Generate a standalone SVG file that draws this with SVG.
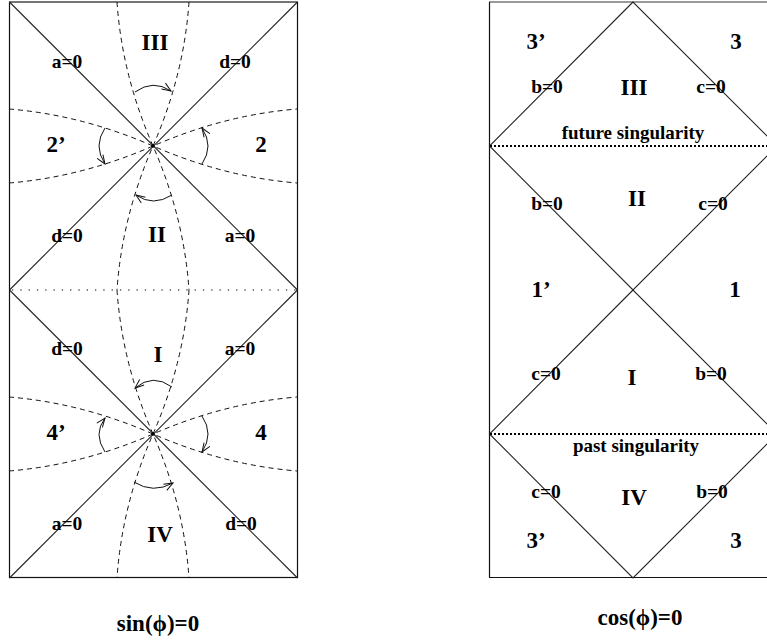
<svg xmlns="http://www.w3.org/2000/svg" width="767" height="642" viewBox="0 0 767 642">
<style>
  .frame { fill: none; stroke: #111; stroke-width: 1.2; }
  .top { stroke: #777; stroke-width: 1.5; }
  .ln { fill: none; stroke: #222; stroke-width: 1.1; }
  .dash { fill: none; stroke: #111; stroke-width: 1; stroke-dasharray: 5 4; }
  .dotg { stroke: #555; stroke-width: 1.5; stroke-dasharray: 1.3 7; }
  .dotb { stroke: #000; stroke-width: 2; stroke-dasharray: 2 2; }
  .arc { fill: none; stroke: #111; stroke-width: 1; marker-end: url(#ah); }
  text { font-family: "Liberation Serif", "Times New Roman", serif; font-weight: bold; text-anchor: middle; fill: #000; }
  .big { font-size: 23px; }
  .sm { font-size: 19.5px; }
  .cap { font-size: 23px; }
  .sing { font-size: 19px; }
</style>
<defs>
  <marker id="ah" viewBox="-12 -6 14 12" refX="0" refY="0" markerWidth="14" markerHeight="12" markerUnits="userSpaceOnUse" orient="auto">
    <path d="M-9,-3.5 L0,0 L-9,3.5" fill="none" stroke="#111" stroke-width="1"/>
  </marker>
</defs>
<rect width="767" height="642" fill="#fff"/>

<!-- LEFT DIAGRAM: sin(phi)=0 -->
<g id="left-diagram">
  <g id="left-frame">
    <rect class="frame" x="9.5" y="2" width="288" height="575.5"/>
    <line class="top" x1="9" y1="2" x2="297" y2="2"/>
    <line class="dotg" x1="12" y1="290" x2="297" y2="290"/>
  </g>
  <g id="left-lines">
    <line class="ln" x1="9.5" y1="2" x2="297.5" y2="290"/>
    <line class="ln" x1="297.5" y1="2" x2="9.5" y2="290"/>
    <line class="ln" x1="9.5" y1="290" x2="297.5" y2="578"/>
    <line class="ln" x1="297.5" y1="290" x2="9.5" y2="578"/>
  </g>
  <g id="left-dashed">
    <path class="dash" d="M117,2 Q122,75 153,146 Q122,217 117,290"/>
    <path class="dash" d="M189,2 Q184,75 153,146 Q184,217 189,290"/>
    <path class="dash" d="M9,109 Q82,115 153,146 Q224,115 297,109"/>
    <path class="dash" d="M9,183 Q82,177 153,146 Q224,177 297,183"/>
    <path class="dash" d="M117,290 Q122,363 153,434 Q122,505 117,578"/>
    <path class="dash" d="M189,290 Q184,363 153,434 Q184,505 189,578"/>
    <path class="dash" d="M9,397 Q82,403 153,434 Q224,403 297,397"/>
    <path class="dash" d="M9,471 Q82,465 153,434 Q224,465 297,471"/>
  </g>
  <g id="left-points">
    <circle cx="153" cy="146" r="1.8" fill="#000"/>
    <circle cx="153" cy="434" r="1.8" fill="#000"/>
  </g>
  <g id="left-arrows">
    <path class="arc" d="M135,92 Q153,79 171,91"/>
    <path class="arc" d="M105,128 Q93,146 105,164"/>
    <path class="arc" d="M202,164 Q214,146 202,128"/>
    <path class="arc" d="M172,195 Q153,207 136,195"/>
    <path class="arc" d="M172,387 Q153,373 135,388"/>
    <path class="arc" d="M105,452 Q93,434 105,418"/>
    <path class="arc" d="M202,416 Q214,434 202,452"/>
    <path class="arc" d="M134,482 Q153,494 173,483"/>
  </g>
  <g id="left-labels">
    <text class="big" x="155" y="50">III</text>
    <text class="sm" x="67" y="68">a=0</text>
    <text class="sm" x="235" y="68">d=0</text>
    <text class="big" x="56" y="152">2’</text>
    <text class="big" x="261" y="152">2</text>
    <text class="sm" x="67" y="242">d=0</text>
    <text class="big" x="157" y="242">II</text>
    <text class="sm" x="240" y="242">a=0</text>
    <text class="sm" x="67" y="355">d=0</text>
    <text class="big" x="158" y="362">I</text>
    <text class="sm" x="240" y="355">a=0</text>
    <text class="big" x="56" y="440">4’</text>
    <text class="big" x="261" y="440">4</text>
    <text class="sm" x="67" y="530">a=0</text>
    <text class="big" x="160" y="542">IV</text>
    <text class="sm" x="241" y="530">d=0</text>
    <text class="cap" x="158" y="631">sin(ϕ)=0</text>
  </g>
</g>

<!-- RIGHT DIAGRAM: cos(phi)=0 -->
<g id="right-diagram">
  <g id="right-frame">
    <line class="top" x1="489" y1="2" x2="767" y2="2"/>
    <line class="frame" x1="489.5" y1="2" x2="489.5" y2="577.5"/>
    <line class="frame" x1="489" y1="577.5" x2="767" y2="577.5"/>
  </g>
  <g id="right-lines">
    <path class="ln" d="M633,2 L489.5,146 L633,290 L777,146 Z"/>
    <path class="ln" d="M633,290 L489.5,434 L633,578 L777,434 Z"/>
  </g>
  <g id="singularities">
    <line class="dotb" x1="490" y1="146" x2="767" y2="146"/>
    <line class="dotb" x1="490" y1="434" x2="767" y2="434"/>
  </g>
  <g id="right-labels">
    <text class="big" x="536" y="49">3’</text>
    <text class="big" x="736" y="49">3</text>
    <text class="sm" x="547" y="93">b=0</text>
    <text class="big" x="634" y="95">III</text>
    <text class="sm" x="711" y="93">c=0</text>
    <text class="sing" x="633" y="139">future singularity</text>
    <text class="sm" x="547" y="210">b=0</text>
    <text class="big" x="637" y="206">II</text>
    <text class="sm" x="713" y="210">c=0</text>
    <text class="big" x="541" y="297">1’</text>
    <text class="big" x="735" y="297">1</text>
    <text class="sm" x="546" y="380">c=0</text>
    <text class="big" x="632" y="385">I</text>
    <text class="sm" x="711" y="380">b=0</text>
    <text class="sing" x="636" y="452">past singularity</text>
    <text class="sm" x="546" y="498">c=0</text>
    <text class="big" x="634" y="505">IV</text>
    <text class="sm" x="712" y="498">b=0</text>
    <text class="big" x="536" y="548">3’</text>
    <text class="big" x="736" y="548">3</text>
    <text class="cap" x="640" y="625">cos(ϕ)=0</text>
  </g>
</g>
</svg>
